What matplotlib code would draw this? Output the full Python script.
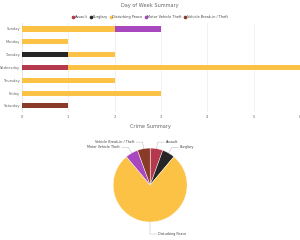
import numpy as np
import matplotlib
matplotlib.use('Agg')
import matplotlib.pyplot as plt
from matplotlib.lines import Line2D

days = ['Sunday', 'Monday', 'Tuesday', 'Wednesday', 'Thursday', 'Friday', 'Saturday']
crime_types = ['Assault', 'Burglary', 'Disturbing Peace', 'Motor Vehicle Theft', 'Vehicle Break-in / Theft']

# counts per day for each crime type
assault = [0, 0, 0, 1, 0, 0, 0]
burglary = [0, 0, 1, 0, 0, 0, 0]
disturbing = [2, 1, 1, 5, 2, 3, 0]
motor_vehicle = [1, 0, 0, 0, 0, 0, 0]
vehicle_breakin = [0, 0, 0, 0, 0, 0, 1]

colors = ['#b5394c', '#262626', '#fbc246', '#a848be', '#8a3a28']

series = [assault, burglary, disturbing, motor_vehicle, vehicle_breakin]
totals = [sum(s) for s in series]

fs = 2.6
txt = '#666666'

fig = plt.figure(figsize=(3, 2.4), dpi=100)
fig.patch.set_facecolor('white')

# ===== Bar chart =====
ax = fig.add_axes([0.073, 0.532, 0.927, 0.374])
y = np.arange(len(days))
left = np.zeros(len(days))
for vals, c in zip(series, colors):
    vals = np.array(vals, dtype=float)
    ax.barh(y, vals, left=left, height=0.4, color=c, edgecolor='none', zorder=3)
    left += vals

ax.set_xlim(0, 6)
ax.set_ylim(len(days) - 0.5, -0.5)
ax.set_yticks(y)
ax.set_yticklabels(days, fontsize=fs, color=txt)
ax.set_xticks(range(7))
ax.set_xticklabels([str(i) for i in range(7)], fontsize=fs, color=txt)
ax.tick_params(axis='y', length=0, pad=1.2)
ax.tick_params(axis='x', length=0, pad=2)
ax.grid(axis='x', color='#e6e6e6', linewidth=0.4, zorder=0)
for s in ['top', 'right', 'bottom']:
    ax.spines[s].set_visible(False)
ax.spines['left'].set_color('#e0e0e0')
ax.spines['left'].set_linewidth(0.4)

fig.text(0.5, 0.975, 'Day of Week Summary', ha='center', va='center', fontsize=3.6, color=txt)

handles = [Line2D([0], [0], marker='o', linestyle='none', markersize=1.6,
                  markerfacecolor=c, markeredgecolor=c) for c in colors]
fig.legend(handles, crime_types, loc='center', bbox_to_anchor=(0.5, 0.929), ncol=5,
           frameon=False, fontsize=2.5, handlelength=0.5, handletextpad=0.25,
           columnspacing=0.6, labelcolor='#444444')

# ===== Pie chart =====
pax = fig.add_axes([0.377, 0.075, 0.247, 0.308])
wedges, _ = pax.pie(totals, colors=colors, startangle=90, counterclock=False,
                    wedgeprops=dict(edgecolor='white', linewidth=0.3))
pax.set_xlim(-1, 1)
pax.set_ylim(-1, 1)
pax.set_aspect('equal')

fig.text(0.5, 0.471, 'Crime Summary', ha='center', va='center', fontsize=3.6, color=txt)

for w, label in zip(wedges, crime_types):
    ang = np.deg2rad((w.theta1 + w.theta2) / 2)
    x0, y0 = np.cos(ang), np.sin(ang)
    if label == 'Disturbing Peace':
        ex, ey = 0.0, -1.32
        x0 = 0.0
        side = 1
    else:
        ex, ey = x0 * 1.18, y0 * 1.18
        side = 1 if ex >= 0 else -1
    hx = ex + side * 0.18
    pax.plot([x0, ex, hx], [y0, ey, ey], color='#aaaaaa', linewidth=0.3, clip_on=False)
    pax.text(hx + side * 0.04, ey, label, ha='left' if side > 0 else 'right', va='center',
             fontsize=2.4, color='#444444', clip_on=False)

fig.savefig('out.png', dpi=100, facecolor='white')
